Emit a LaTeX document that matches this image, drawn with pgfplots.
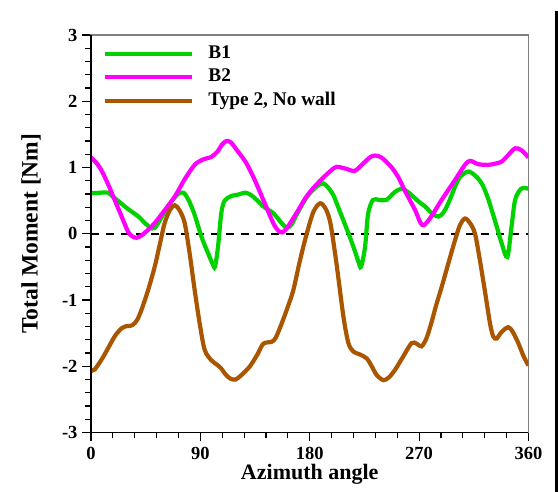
\documentclass[border=0pt]{standalone}
\usepackage{fontspec}
\setmainfont{Liberation Serif}
\usepackage{pgfplots}
\pgfplotsset{compat=1.18}
\definecolor{cgreen}{RGB}{0,210,0}
\definecolor{cmag}{RGB}{255,0,255}
\definecolor{cbrown}{RGB}{170,85,0}
\begin{document}
\begin{tikzpicture}
\begin{axis}[name=ax,
  scale only axis, width=437.5pt, height=397.5pt,
  xmin=0, xmax=360, ymin=-3, ymax=3,
  xtick={0,90,180,270,360}, xticklabels={0,90,180,270,360},
  ytick={-3,-2,-1,0,1,2,3}, yticklabels={-3,-2,-1,0,1,2,3},
  minor x tick num=4, minor y tick num=4,
  xtick pos=bottom, ytick pos=left, tick align=outside,
  major tick length=9pt, minor tick length=6pt,
  every tick/.style={black, line width=1.2pt},
  axis line style={gray, line width=1.2pt},
  tick label style={font=\bfseries\fontsize{18.5}{18.5}\selectfont},
  xticklabel style={yshift=-2pt},
  yticklabel style={xshift=-1pt},
  xlabel={\bfseries Azimuth angle},
  ylabel={\bfseries Total Moment [Nm]},
  every axis x label/.style={at={(axis description cs:0.5,-0.104)}, anchor=center, font=\fontsize{22}{22}\selectfont},
  every axis y label/.style={at={(axis description cs:-0.137,0.5)}, rotate=90, anchor=center, font=\fontsize{23.5}{23.5}\selectfont},
  legend image code/.code={\draw[#1, line width=4.2pt] (0pt,0pt) -- (87pt,0pt);},
  legend style={at={(rel axis cs:0,1)}, anchor=north west, xshift=12pt, yshift=-8pt,
    draw=none, fill=none, inner sep=0pt, row sep=2.5pt,
    font=\bfseries\fontsize{19.3}{19.3}\selectfont,
    nodes={inner sep=2pt, text height=13pt, text depth=4pt},
    /tikz/every odd column/.append style={column sep=12pt}},
  legend cell align=left,
]
\addplot[black, dashed, line width=2pt, dash pattern=on 8pt off 7pt, forget plot] coordinates {(0,0) (360,0)};
\addplot[cgreen, line width=4.2pt, smooth, tension=0.5] coordinates {
(0,0.61) (8,0.62) (14,0.62) (18,0.56) (24,0.47) (30,0.38) (39,0.26) (45,0.15) (50,0.08) (53,0.10) (56.5,0.2) (61,0.34) (66,0.48) (71.6,0.60) (76,0.62) (80,0.52) (85,0.30) (91,-0.05) (96,-0.28) (100,-0.45) (102,-0.50) (104.5,-0.2) (107.2,0.31) (110,0.50) (115.5,0.57) (121,0.59) (127,0.62) (132,0.58) (137,0.50) (142,0.41) (150,0.31) (156,0.18) (161,0.09) (165,0.14) (169,0.28) (175,0.48) (180,0.61) (186,0.72) (191,0.76) (195,0.70) (199.5,0.58) (203,0.42) (207.7,0.20) (212,0.0) (216,-0.20) (220,-0.42) (222.2,-0.50) (225.5,-0.2) (228,0.30) (232,0.51) (237,0.51) (243,0.51) (250,0.63) (255.6,0.68) (260,0.64) (264,0.58) (270,0.48) (275,0.41) (281,0.30) (286,0.26) (290,0.32) (294,0.46) (302,0.81) (307,0.91) (311,0.94) (316,0.88) (321.5,0.76) (326,0.57) (329.7,0.36) (334,0.10) (338,-0.15) (342.6,-0.35) (346,0.10) (349,0.51) (354,0.68) (360,0.68)};
\addlegendentry{B1}
\addplot[cmag, line width=4.2pt, smooth, tension=0.5] coordinates {
(0,1.15) (4,1.08) (8.5,0.96) (14,0.75) (19.5,0.51) (25,0.27) (30.5,0.03) (34,-0.04) (37.5,-0.06) (42,-0.02) (47,0.06) (52.4,0.16) (60,0.34) (68.9,0.56) (77,0.82) (85.3,1.04) (92,1.12) (99,1.16) (104,1.24) (108,1.35) (111.5,1.40) (115,1.38) (121,1.24) (128,1.06) (135,0.80) (141.8,0.51) (150,0.16) (154,0.05) (157,0.02) (161,0.08) (169,0.31) (178,0.58) (188,0.79) (196.6,0.94) (202,1.01) (210,0.98) (217,0.95) (224,1.06) (230,1.16) (234,1.18) (239,1.15) (247,1.01) (253,0.85) (258,0.66) (266.6,0.36) (271,0.17) (274,0.13) (280,0.26) (288.5,0.51) (299.5,0.81) (307.7,1.04) (312,1.10) (318.7,1.05) (327,1.04) (333,1.06) (338,1.09) (343.4,1.19) (349,1.29) (354.3,1.26) (360,1.15)};
\addlegendentry{B2}
\addplot[cbrown, line width=4.2pt, smooth, tension=0.5] coordinates {
(0,-2.06) (3,-2.05) (10,-1.86) (19.5,-1.55) (25,-1.43) (28,-1.40) (34,-1.38) (38,-1.30) (41.5,-1.15) (47,-0.85) (52.4,-0.50) (56.5,-0.17) (60.6,0.16) (65,0.36) (69,0.43) (73,0.35) (77.1,0.16) (81.2,-0.30) (85.3,-0.85) (89.4,-1.35) (93.5,-1.75) (99,-1.91) (104,-1.98) (107,-2.03) (111,-2.13) (115,-2.19) (119,-2.20) (124,-2.13) (130.8,-2.0) (137,-1.82) (141.8,-1.66) (148.7,-1.63) (152,-1.57) (157,-1.35) (162,-1.10) (166.5,-0.85) (172,-0.40) (177.5,0.0) (183,0.33) (188.5,0.46) (193,0.38) (197,0.16) (202,-0.45) (207.7,-1.25) (211.8,-1.65) (216,-1.78) (221,-1.82) (226.8,-1.88) (231,-2.0) (235,-2.13) (240.5,-2.21) (245,-2.17) (250,-2.06) (257,-1.85) (263.8,-1.65) (268,-1.66) (272,-1.70) (276,-1.58) (280,-1.35) (284,-1.08) (288.6,-0.80) (294,-0.45) (299.5,-0.10) (303.6,0.13) (307.7,0.23) (311.9,0.16) (316,0.0) (320,-0.40) (324,-0.85) (328.3,-1.35) (331,-1.55) (333.8,-1.58) (338,-1.48) (343.4,-1.41) (347,-1.48) (351.6,-1.65) (356,-1.85) (360,-1.99)};
\addlegendentry{Type 2, No wall}
\end{axis}
\draw[black, line width=1.6pt] (ax.north west) -- (ax.south west) -- (ax.south east);
\fill[black] (ax.south west) ++(464pt,-59.5pt) rectangle ++(3pt,480.5pt);
\pgfresetboundingbox
\path (ax.south west) ++(-91pt,-59.5pt) rectangle ++(558pt,492pt);
\end{tikzpicture}
\end{document}
